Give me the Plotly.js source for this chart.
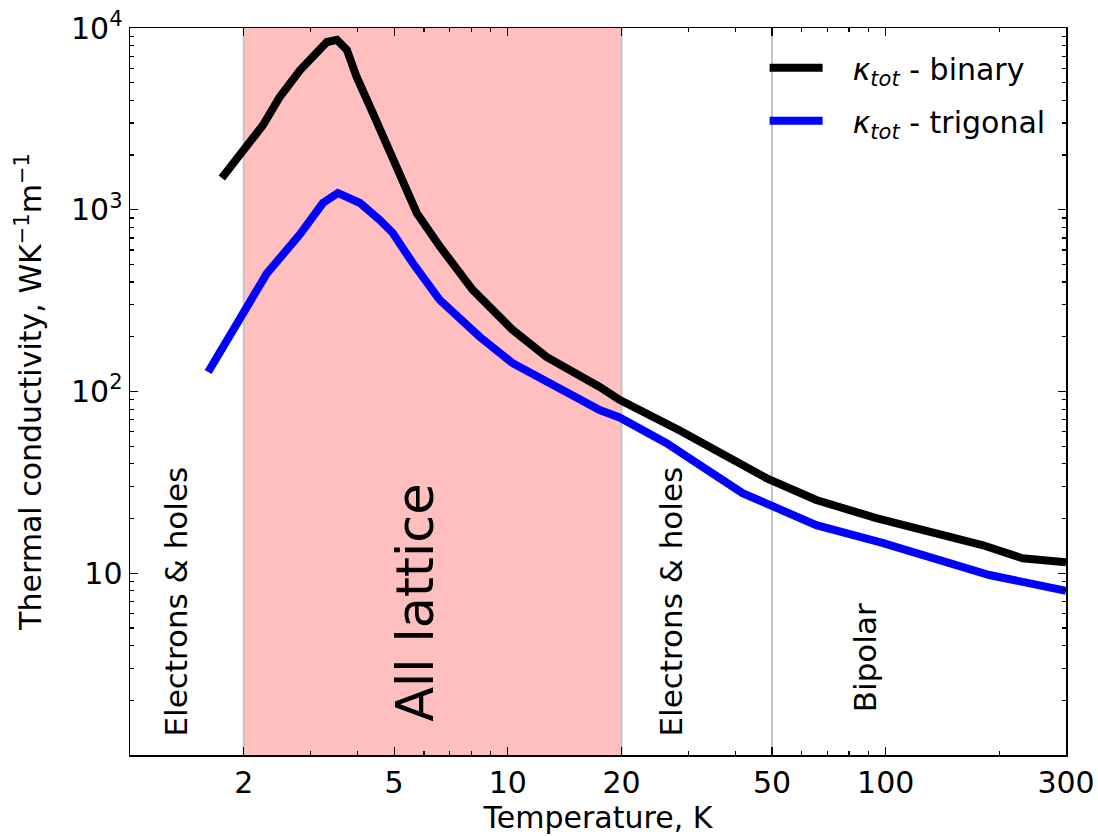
<!DOCTYPE html>
<html>
<head>
<meta charset="utf-8">
<script src="https://cdn.plot.ly/plotly-3.0.1.min.js"></script>
<style>html,body{margin:0;padding:0;background:#fff;}#chart{width:1098px;height:836px;}</style>
</head>
<body>
<div id="chart"></div>
<script>
// ---- data ----
var binaryT = [1.75, 2.0, 2.25, 2.49, 2.82, 3.32, 3.53, 3.75, 3.98, 4.39, 4.96, 5.74, 6.60, 8.07, 10.3, 12.66, 17.5, 19.75, 28.5, 37.9, 48.3, 65.5, 94.4, 180, 230, 300];
var binaryK = [1496, 2133, 2925, 4170, 5870, 8375, 8600, 7570, 5375, 3407, 1950, 960, 630, 362, 218, 155, 106, 90, 61, 43.6, 33.4, 25.3, 20.1, 14.3, 12.1, 11.5];
var trigT = [1.61, 2.30, 2.82, 3.24, 3.55, 4.06, 4.58, 4.96, 5.6, 6.6, 8.42, 10.3, 17.5, 19.75, 26.3, 41.8, 65.5, 98, 188, 300];
var trigK = [128, 445, 735, 1089, 1237, 1089, 879, 745, 509, 319, 200, 143, 79, 72, 52, 27.6, 18.4, 14.7, 9.78, 8.0];

var seriesNames = ['&nbsp;&nbsp;&#8201;<i>κ</i><sub><i>tot</i></sub> - binary', '&nbsp;&nbsp;&#8201;<i>κ</i><sub><i>tot</i></sub> - trigonal'];
var seriesColors = ['#000000', '#0000ff'];

var xTickVals = [2, 5, 10, 20, 50, 100, 300];
var xTickText = ['2', '5', '10', '20', '50', '100', '300'];
var xMinorVals = [3, 4, 6, 7, 8, 9, 30, 40, 60, 70, 80, 90, 200];
var yTickVals = [10, 100, 1000, 10000];
var yTickText = ['10', '10<sup>2</sup>', '10<sup>3</sup>', '10<sup>4</sup>'];
var yMinorVals = [2,3,4,5,6,7,8,9,20,30,40,50,60,70,80,90,200,300,400,500,600,700,800,900,2000,3000,4000,5000,6000,7000,8000,9000];

var latticeRange = [2, 20];
var dividerT = [2, 20, 50];

var regionLabels = ['Electrons &amp; holes', 'All lattice', 'Electrons &amp; holes', 'Bipolar'];
var regionLabelT = [1.32, 5.67, 26.95, 88.3];
var regionLabelK = [6.95, 6.85, 6.95, 3.42];
var regionLabelSize = [31, 51, 31, 31];

// ---- figure ----
var font = 'DejaVu Sans, Bitstream Vera Sans, sans-serif';
var traces = [
  {x: binaryT, y: binaryK, mode: 'lines', name: seriesNames[0], legendgroup: 'a',
   line: {color: seriesColors[0], width: 8}},
  {x: trigT, y: trigK, mode: 'lines', name: seriesNames[1], legendgroup: 'b',
   line: {color: seriesColors[1], width: 8}}
];

var shapes = [{type: 'rect', xref: 'x', yref: 'paper', x0: latticeRange[0], x1: latticeRange[1], y0: 0, y1: 1,
  fillcolor: '#ffbfbf', line: {width: 0}, layer: 'below'}];
dividerT.forEach(function (t) {
  shapes.push({type: 'line', xref: 'x', yref: 'paper', x0: t, x1: t, y0: 0, y1: 1,
    line: {color: '#c4c4c4', width: 2}, layer: 'below'});
});

var annotations = regionLabels.map(function (txt, i) {
  return {text: txt, x: Math.log10(regionLabelT[i]), y: Math.log10(regionLabelK[i]), xref: 'x', yref: 'y',
    showarrow: false, textangle: -90, xanchor: 'center', yanchor: 'middle',
    font: {family: font, size: regionLabelSize[i], color: '#000'}};
});

var axisCommon = {
  type: 'log', showgrid: false, zeroline: false, showline: true, linecolor: '#000', linewidth: 1.5,
  mirror: 'allticks', ticks: 'inside', ticklen: 8, tickwidth: 1.2, tickcolor: '#000',
  tickfont: {family: font, size: 30, color: '#000'}
};

var layout = {
  width: 1098, height: 836,
  margin: {l: 130, r: 32, t: 28, b: 81, pad: 0},
  paper_bgcolor: '#fff', plot_bgcolor: '#fff',
  font: {family: font, size: 30, color: '#000'},
  showlegend: true,
  legend: {x: 0.678, y: 0.981, xanchor: 'left', yanchor: 'top', bgcolor: 'rgba(0,0,0,0)', borderwidth: 0,
    font: {family: font, size: 30, color: '#000'}, itemwidth: 53, tracegroupgap: 11, traceorder: 'grouped'},
  xaxis: Object.assign({}, axisCommon, {
    range: [0, Math.log10(300)], tickmode: 'array', tickvals: xTickVals, ticktext: xTickText,
    minor: {tickmode: 'array', tickvals: xMinorVals, ticks: 'inside', ticklen: 4, tickwidth: 1.2, tickcolor: '#000', showgrid: false},
    title: {text: 'Temperature, K', font: {family: font, size: 30, color: '#000'}, standoff: 3}
  }),
  yaxis: Object.assign({}, axisCommon, {
    range: [0, 4], tickmode: 'array', tickvals: yTickVals, ticktext: yTickText,
    minor: {tickmode: 'array', tickvals: yMinorVals, ticks: 'inside', ticklen: 4, tickwidth: 1.2, tickcolor: '#000', showgrid: false},
    title: {text: 'Thermal conductivity, WK<sup>−1</sup>m<sup>−1</sup>', font: {family: font, size: 30, color: '#000'}, standoff: 20}
  }),
  shapes: shapes,
  annotations: annotations
};

Plotly.newPlot('chart', traces, layout, {displayModeBar: false, staticPlot: true});
</script>
</body>
</html>
